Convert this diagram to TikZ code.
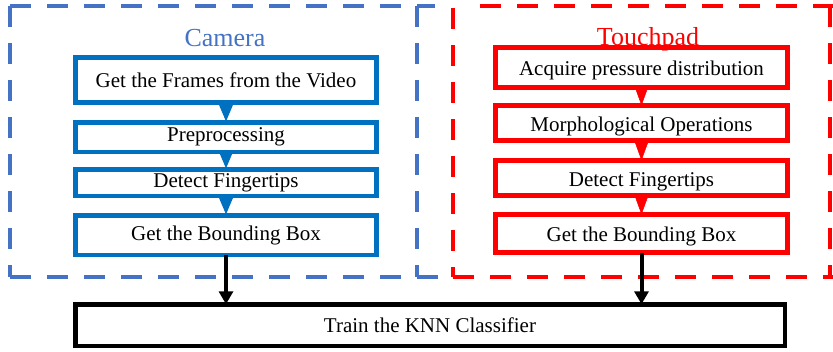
\documentclass[tikz,border=0pt]{standalone}
\usepackage{fontspec}
\setmainfont{Liberation Serif}
\usetikzlibrary{arrows.meta}
\definecolor{camframe}{HTML}{4472C4}
\definecolor{cambox}{HTML}{0070C0}
\definecolor{padred}{HTML}{FF0000}
\tikzset{
  frameline/.style={line width=4pt, dash pattern=on 21pt off 16pt},
  stepbox/.style={draw, fill=white, rectangle, inner sep=0pt, outer sep=0pt,
    font=\fontsize{21}{24}\selectfont, text=black},
  cambox/.style={stepbox, draw=cambox, line width=4.5pt, minimum width=301pt},
  padbox/.style={stepbox, draw=padred, line width=5pt, minimum width=292pt,
    text height=17pt, text depth=1pt},
  flowtip/.style={line width=0.5pt, -{Triangle[width=13pt,length=18pt]}},
  outarrow/.style={draw=black, line width=4pt, -{Triangle[width=14pt,length=13pt]}},
  grouplabel/.style={font=\fontsize{26}{30}\selectfont, inner sep=0pt, anchor=base}
}
\begin{document}
\begin{tikzpicture}[x=1pt,y=-1pt]
\useasboundingbox (0,0) rectangle (833,351);

% dashed group frames
\draw[frameline, camframe] (10,6) -- (435,6);
\draw[frameline, camframe] (10,6) -- (10,277);
\draw[frameline, camframe] (417,6) -- (417,277);
\draw[frameline, camframe] (10,277) -- (440,277);
\draw[frameline, padred] (480,6) -- (833,6);
\draw[frameline, padred] (453,8) -- (453,277);
\draw[frameline, padred] (830,6) -- (830,277);
\draw[frameline, padred] (453,277) -- (833,277);

% camera pipeline
\node[cambox, minimum height=45pt] (c1) at (226,80) {Get the Frames from the Video};
\node[cambox, minimum height=29.5pt] (c2) at (226,137) {Preprocessing};
\node[cambox, minimum height=26.5pt] (c3) at (226,182.5) {Detect Fingertips};
\node[cambox, minimum height=39.5pt] (c4) at (226,235) {Get the Bounding Box};
\node[grouplabel, text=camframe] (camlbl) at (225,46) {Camera};

\draw[flowtip, cambox] (c1.south) -- (c2.north);
\draw[flowtip, cambox] (c2.south) -- (c3.north);
\draw[flowtip, cambox] (c3.south) -- (c4.north);

% touchpad pipeline
\node[padbox, minimum height=40pt] (p1) at (641.5,67.5) {Acquire pressure distribution};
\node[padbox, minimum height=35pt] (p2) at (641.5,123) {Morphological Operations};
\node[padbox, minimum height=35pt] (p3) at (641.5,178) {Detect Fingertips};
\node[padbox, minimum height=38pt] (p4) at (641.5,233.5) {Get the Bounding Box};
\node[grouplabel, text=padred] (padlbl) at (648,45) {Touchpad};

\draw[flowtip, padred] (p1.south) -- (p2.north);
\draw[flowtip, padred] (p2.south) -- (p3.north);
\draw[flowtip, padred] (p3.south) -- (p4.north);

% classifier
\node[stepbox, draw=black, line width=4.5pt, minimum width=709.5pt, minimum height=41.5pt] (knn) at (430,325) {Train the KNN Classifier};

\draw[outarrow] (c4.south) -- (knn.north -| c4.south);
\draw[outarrow] (p4.south) -- (knn.north -| p4.south);
\end{tikzpicture}
\end{document}
